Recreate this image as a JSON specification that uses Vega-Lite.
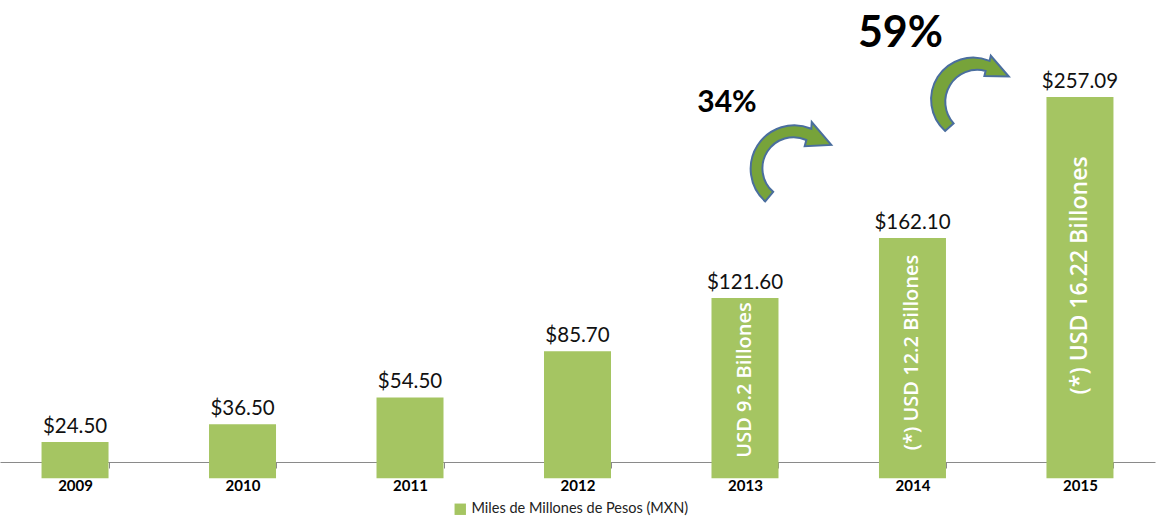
{
  "$schema": "https://vega.github.io/schema/vega-lite/v6.json",
  "autosize": "none",
  "padding": {"left": 0, "top": 0, "right": 19, "bottom": 59},
  "width": 1155,
  "height": 462,
  "background": "white",
  "config": {"view": {"stroke": null}},
  "datasets": {
    "bars": [
      {"year": "2009", "value": 24.5, "serie": "Miles de Millones de Pesos (MXN)"},
      {"year": "2010", "value": 36.5, "serie": "Miles de Millones de Pesos (MXN)"},
      {"year": "2011", "value": 54.5, "serie": "Miles de Millones de Pesos (MXN)"},
      {"year": "2012", "value": 85.7, "serie": "Miles de Millones de Pesos (MXN)"},
      {"year": "2013", "value": 121.6, "serie": "Miles de Millones de Pesos (MXN)"},
      {"year": "2014", "value": 162.1, "serie": "Miles de Millones de Pesos (MXN)"},
      {"year": "2015", "value": 257.09, "serie": "Miles de Millones de Pesos (MXN)"}
    ],
    "notes": [
      {"year": "2013", "y": 66.3, "text": "USD 9.2 Billones"},
      {"year": "2014", "y": 84.8, "text": "(*) USD 12.2 Billones"},
      {"year": "2015", "y": 136.8, "text": "(*) USD 16.22 Billones"}
    ],
    "growth": [
      {"year": "2013", "y": 247, "text": "34%", "arrow_y": 211.9},
      {"year": "2014", "y": 290.8, "text": "59%", "arrow_y": 258.5}
    ]
  },
  "layer": [
    {
      "data": {"name": "bars"},
      "mark": {"type": "bar"},
      "encoding": {
        "x": {
          "field": "year", "type": "ordinal",
          "scale": {"paddingInner": 0.6, "paddingOuter": 0.248},
          "axis": {
            "title": null, "labelAngle": 0, "labelFont": "Lato", "labelFontWeight": "bold",
            "labelFontSize": 15, "labelColor": "#000000", "labelPadding": 10,
            "domainColor": "#8a8a8a", "tickColor": "#8a8a8a", "tickSize": 6, "ticks": true,
            "tickBand": "extent", "grid": false
          }
        },
        "y": {
          "field": "value", "type": "quantitative",
          "scale": {"domain": [11, 322.5], "zero": false, "nice": false},
          "axis": null
        },
        "color": {
          "field": "serie", "type": "nominal",
          "scale": {"range": ["#A5C562"]},
          "legend": {
            "title": null, "orient": "none", "legendX": 453, "legendY": 502,
            "direction": "horizontal", "symbolType": "square", "symbolSize": 130,
            "symbolStrokeWidth": 0, "labelFont": "Lato", "labelFontSize": 14.5,
            "labelColor": "#222222", "labelOffset": 4, "labelLimit": 500
          }
        }
      }
    },
    {
      "data": {"name": "bars"},
      "mark": {"type": "text", "font": "Lato", "fontSize": 20.5, "color": "#111111", "baseline": "alphabetic", "dy": -9},
      "encoding": {
        "x": {"field": "year", "type": "ordinal"},
        "y": {"field": "value", "type": "quantitative"},
        "text": {"field": "value", "type": "quantitative", "format": "$.2f"}
      }
    },
    {
      "data": {"name": "notes"},
      "mark": {"type": "text", "font": "Open Sans", "fontWeight": 600, "color": "#ffffff", "angle": 270, "align": "center", "baseline": "middle"},
      "encoding": {
        "x": {"field": "year", "type": "ordinal"},
        "y": {"field": "y", "type": "quantitative"},
        "text": {"field": "text"},
        "size": {"condition": {"test": "datum.year == '2015'", "value": 23}, "value": 20}
      }
    },
    {
      "data": {"name": "growth"},
      "transform": [{"filter": "datum.year == '2013'"}],
      "mark": {"type": "text", "font": "Lato", "fontWeight": "bold", "fontSize": 30, "color": "#000000", "align": "center", "baseline": "alphabetic", "dx": -18},
      "encoding": {
        "x": {"field": "year", "type": "ordinal"},
        "y": {"field": "y", "type": "quantitative"},
        "text": {"field": "text"}
      }
    },
    {
      "data": {"name": "growth"},
      "transform": [{"filter": "datum.year == '2014'"}],
      "mark": {"type": "text", "font": "Lato", "fontWeight": "bold", "fontSize": 43, "color": "#000000", "align": "center", "baseline": "alphabetic", "dx": -12},
      "encoding": {
        "x": {"field": "year", "type": "ordinal"},
        "y": {"field": "y", "type": "quantitative"},
        "text": {"field": "text"}
      }
    },
    {
      "data": {"name": "growth"},
      "transform": [{"filter": "datum.year == '2013'"}],
      "mark": {
        "type": "point", "filled": true, "fill": "#77A33A", "stroke": "#4A6E9E", "strokeWidth": 2, "opacity": 1,
        "size": 6889, "xOffset": 46,
        "shape": "M -0.62 0.9 A 1.05 1.05 0 0 1 0.49 -0.85 L 0.5 -1.01 L 0.97 -0.46 L 0.33 -0.43 L 0.37 -0.58 A 0.75 0.75 0 0 0 -0.43 0.67 Z"
      },
      "encoding": {
        "x": {"field": "year", "type": "ordinal"},
        "y": {"field": "arrow_y", "type": "quantitative"}
      }
    },
    {
      "data": {"name": "growth"},
      "transform": [{"filter": "datum.year == '2014'"}],
      "mark": {
        "type": "point", "filled": true, "fill": "#77A33A", "stroke": "#4A6E9E", "strokeWidth": 2, "opacity": 1,
        "size": 6400, "xOffset": 57.5,
        "shape": "M -0.62 0.9 A 1.05 1.05 0 0 1 0.49 -0.85 L 0.52 -0.98 L 0.97 -0.46 L 0.36 -0.47 L 0.39 -0.6 A 0.8 0.8 0 0 0 -0.41 0.71 Z"
      },
      "encoding": {
        "x": {"field": "year", "type": "ordinal"},
        "y": {"field": "arrow_y", "type": "quantitative"}
      }
    }
  ]
}
